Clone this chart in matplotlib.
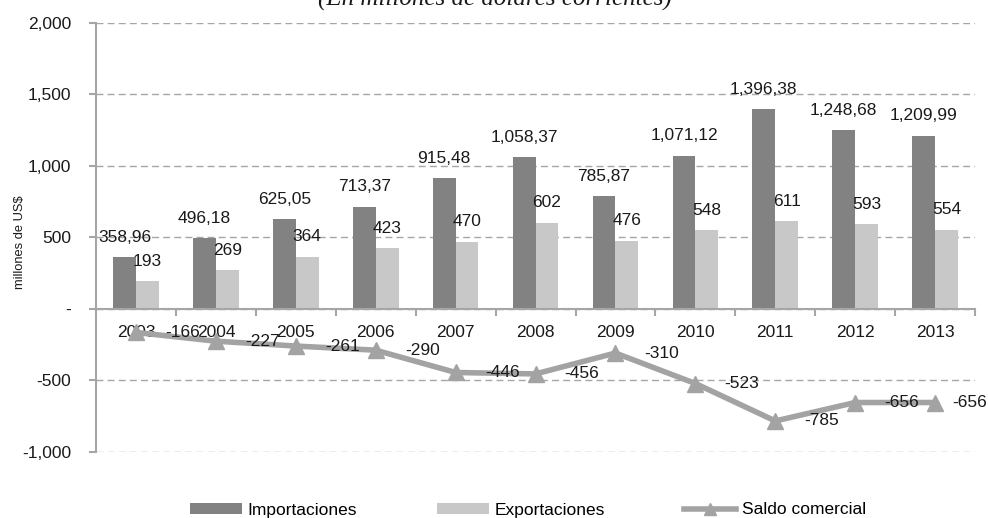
import numpy as np
import matplotlib.pyplot as plt
from matplotlib.ticker import FuncFormatter

years = ['2003', '2004', '2005', '2006', '2007', '2008', '2009', '2010', '2011', '2012', '2013']
importaciones = [358.96, 496.18, 625.05, 713.37, 915.48, 1058.37, 785.87, 1071.12, 1396.38, 1248.68, 1209.99]
exportaciones = [193, 269, 364, 423, 470, 602, 476, 548, 611, 593, 554]
saldo = [-166, -227, -261, -290, -446, -456, -310, -523, -785, -656, -656]

plt.rcParams['font.family'] = ['Liberation Sans', 'DejaVu Sans']
c_imp = '#828282'
c_exp = '#c8c8c8'
c_line = '#a3a3a3'
c_axis = '#a6a6a6'
txt = '#1a1a1a'

fig = plt.figure(figsize=(9.88, 5.18), dpi=100)
ax = fig.add_axes([0.0972, 0.128, 0.8897, 0.828])

x = np.arange(len(years))
w = 0.286
b1 = ax.bar(x - w / 2, importaciones, w, color=c_imp, label='Importaciones', zorder=2)
b2 = ax.bar(x + w / 2, exportaciones, w, color=c_exp, label='Exportaciones', zorder=2)
l1, = ax.plot(x, saldo, color=c_line, lw=4, marker='^', ms=12, label='Saldo comercial', zorder=3)

# data labels
for xi, v in zip(x, importaciones):
    s = f'{v:,.2f}'.replace('.', ',')
    ax.annotate(s, (xi - w / 2, v), xytext=(0, 11), textcoords='offset points',
                ha='center', va='baseline', fontsize=12.5, color=txt)
for xi, v in zip(x, exportaciones):
    ax.annotate(f'{v}', (xi + w / 2, v), xytext=(0, 11), textcoords='offset points',
                ha='center', va='baseline', fontsize=12.5, color=txt)
for i, (xi, v) in enumerate(zip(x, saldo)):
    dx = 12 if i == len(saldo) - 1 else 21  # last label squeezed to fit
    ax.annotate(f'{v}', (xi, v), xytext=(dx, 0), textcoords='offset points',
                ha='left', va='center', fontsize=12.5, color=txt)

ax.set_xlim(-0.5, len(years) - 0.5)
ax.set_ylim(-1000, 2000)
ax.set_yticks(np.arange(-1000, 2001, 500))
ax.yaxis.set_major_formatter(FuncFormatter(lambda v, p: '-' if v == 0 else f'{v:,.0f}'))
ax.grid(axis='y', color=c_axis, ls=(0, (5, 3)), lw=1, zorder=0)

# category axis crossing at zero
ax.spines['bottom'].set_position(('data', 0))
for s in ['top', 'right']:
    ax.spines[s].set_visible(False)
for s in ['left', 'bottom']:
    ax.spines[s].set_color(c_axis)
    ax.spines[s].set_linewidth(1.5)
    ax.spines[s].set_zorder(4)
ax.set_xticks(np.arange(-0.5, len(years), 1))
ax.set_xticklabels([])
ax.set_xticks(x, minor=True)
ax.set_xticklabels(years, minor=True)
ax.tick_params(axis='x', which='major', length=5, color=c_axis, width=1.5, direction='out')
ax.tick_params(axis='x', which='minor', length=0, pad=12, labelsize=12.5, labelcolor=txt)
ax.tick_params(axis='y', length=5, color=c_axis, width=1.5, pad=13, labelsize=12.5, labelcolor=txt)

fig.text(20 / 988, 1 - 242 / 518, 'millones de US$', rotation=90, ha='center', va='center',
         fontsize=9.3, color=txt)
fig.text(495 / 988, 1 - 6 / 518, '(En millones de dólares corrientes)', ha='center', va='baseline',
         fontsize=18, style='italic', family='Liberation Serif', color=txt)

fig.legend([b1, b2, l1], ['Importaciones', 'Exportaciones', 'Saldo comercial'],
           loc='center', bbox_to_anchor=(528 / 988, 1 - 510 / 518), ncol=3, frameon=False,
           fontsize=12.5, handlelength=3.0, handletextpad=0.3, columnspacing=4.6,
           handleheight=0.6, borderaxespad=0, borderpad=0, markerscale=0.7)

plt.savefig('out.png', dpi=100)
